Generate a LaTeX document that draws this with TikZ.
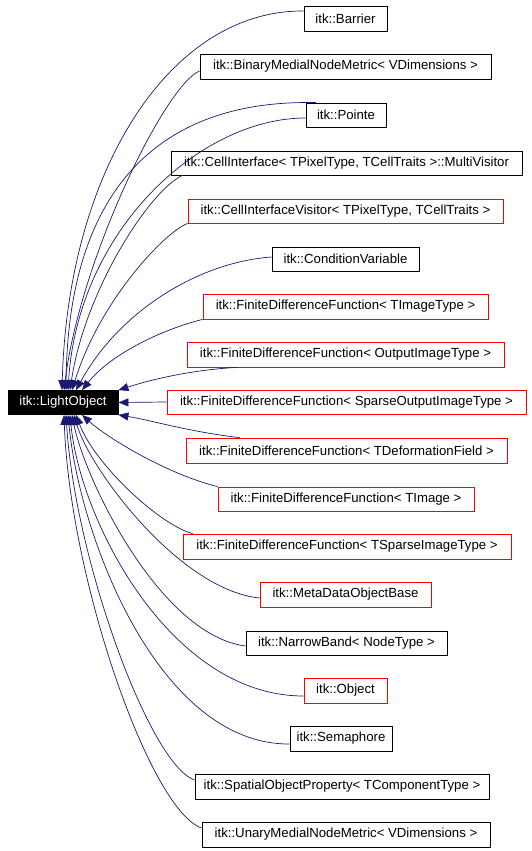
\documentclass[tikz,border=0pt]{standalone}
\usepackage{fontspec}
\setmainfont{Liberation Sans}
\usetikzlibrary{arrows.meta}
\definecolor{edgec}{RGB}{25,25,112}
\begin{document}
\begin{tikzpicture}[x=1pt,y=-1pt,
  box/.style={draw=black, rectangle, inner sep=0pt, minimum height=25pt, line width=0.8pt,
              font=\fontsize{13.2}{15}\selectfont},
  redbox/.style={box, draw=red},
  edge/.style={draw=edgec, line width=0.7pt, -{Triangle[length=10pt,width=8pt]}}]
\useasboundingbox (0,0) rectangle (531,851);

\node[box, fill=black, text=white, minimum width=110pt, minimum height=24pt] (lo) at (63,402.5) {itk::LightObject};

\node[box, minimum width=83pt] (barrier) at (345.5,18.5) {itk::Barrier};
\node[box, minimum width=291pt] (binary) at (345.5,66.5) {itk::BinaryMedialNodeMetric< VDimensions >};
\node[box, minimum width=80pt, minimum height=24pt] (pointe) at (346,115) {itk::Pointe};
\node[box, minimum width=351pt, minimum height=24pt] (cellmv) at (346.5,163) {itk::CellInterface< TPixelType, TCellTraits >::MultiVisitor};
\node[redbox, minimum width=315pt, minimum height=24pt] (cellv) at (345.5,211) {itk::CellInterfaceVisitor< TPixelType, TCellTraits >};
\node[box, minimum width=147pt, minimum height=24pt] (condvar) at (345.5,259) {itk::ConditionVariable};
\node[redbox, minimum width=285pt] (fdfa) at (345.5,306.5) {itk::FiniteDifferenceFunction< TImageType >};
\node[redbox, minimum width=317pt] (fdfb) at (345.5,354.5) {itk::FiniteDifferenceFunction< OutputImageType >};
\node[redbox, minimum width=359pt, minimum height=24pt] (fdfc) at (346.5,402) {itk::FiniteDifferenceFunction< SparseOutputImageType >};
\node[redbox, minimum width=321pt] (fdfd) at (346.5,450.5) {itk::FiniteDifferenceFunction< TDeformationField >};
\node[redbox, minimum width=256pt, minimum height=24pt] (fdfe) at (346,499) {itk::FiniteDifferenceFunction< TImage >};
\node[redbox, minimum width=328pt] (fdff) at (347,546.5) {itk::FiniteDifferenceFunction< TSparseImageType >};
\node[redbox, minimum width=171pt] (meta) at (345.5,594.5) {itk::MetaDataObjectBase};
\node[box, minimum width=201pt, minimum height=24pt] (narrow) at (346.5,643) {itk::NarrowBand< NodeType >};
\node[redbox, minimum width=83pt] (object) at (345.5,690.5) {itk::Object};
\node[box, minimum width=102pt] (sema) at (341,738.5) {itk::Semaphore};
\node[box, minimum width=294pt] (spatial) at (342,786.5) {itk::SpatialObjectProperty< TComponentType >};
\node[box, minimum width=288pt] (unary) at (346,834.5) {itk::UnaryMedialNodeMetric< VDimensions >};

\draw[edge] ([yshift=7.5pt]barrier.west) .. controls (170,10) and (68,170) .. ([xshift=-1pt]lo.north);
\draw[edge] ([yshift=-4.5pt]binary.west) .. controls (165,85) and (80,260) .. ([xshift=1pt]lo.north);
\draw[edge] ([xshift=-30pt]pointe.north) .. controls (150,99) and (68,200) .. ([xshift=3pt]lo.north);
\draw[edge] ([yshift=-3pt]pointe.west) .. controls (200,118) and (78,230) .. ([xshift=5pt]lo.north);
\draw[edge] ([xshift=12pt]cellmv.south west) .. controls (150,190) and (85,290) .. ([xshift=7pt]lo.north);
\draw[edge] (cellv.south west) .. controls (165,232) and (100,300) .. ([xshift=9pt]lo.north);
\draw[edge] ([yshift=2pt]condvar.west) .. controls (200,262) and (120,310) .. ([xshift=13pt]lo.north);
\draw[edge] (fdfa.south west) .. controls (160,330) and (110,355) .. ([xshift=19pt]lo.north);
\draw[edge] ([xshift=50pt]fdfb.south west) .. controls (190,370) and (150,380) .. (lo.north east);
\draw[edge] (fdfc.west) -- (lo.east);
\draw[edge] ([xshift=54pt]fdfd.north west) .. controls (190,432) and (150,420) .. (lo.south east);
\draw[edge] (fdfe.north west) .. controls (170,475) and (110,440) .. ([xshift=19pt]lo.south);
\draw[edge] ([xshift=10pt]fdff.north west) .. controls (160,525) and (95,465) .. ([xshift=13pt]lo.south);
\draw[edge] ([yshift=-3.5pt]meta.west) .. controls (180,590) and (90,470) .. ([xshift=11pt]lo.south);
\draw[edge] ([yshift=-3pt]narrow.west) .. controls (160,635) and (85,480) .. ([xshift=9pt]lo.south);
\draw[edge] ([yshift=-5.5pt]object.west) .. controls (170,696) and (80,520) .. ([xshift=7pt]lo.south);
\draw[edge] ([yshift=-5.5pt]sema.west) .. controls (160,745) and (80,540) .. ([xshift=5pt]lo.south);
\draw[edge] ([yshift=6.5pt]spatial.west) .. controls (150,765) and (75,560) .. ([xshift=3pt]lo.south);
\draw[edge] ([yshift=6.5pt]unary.west) .. controls (150,810) and (70,580) .. ([xshift=1pt]lo.south);
\end{tikzpicture}
\end{document}
